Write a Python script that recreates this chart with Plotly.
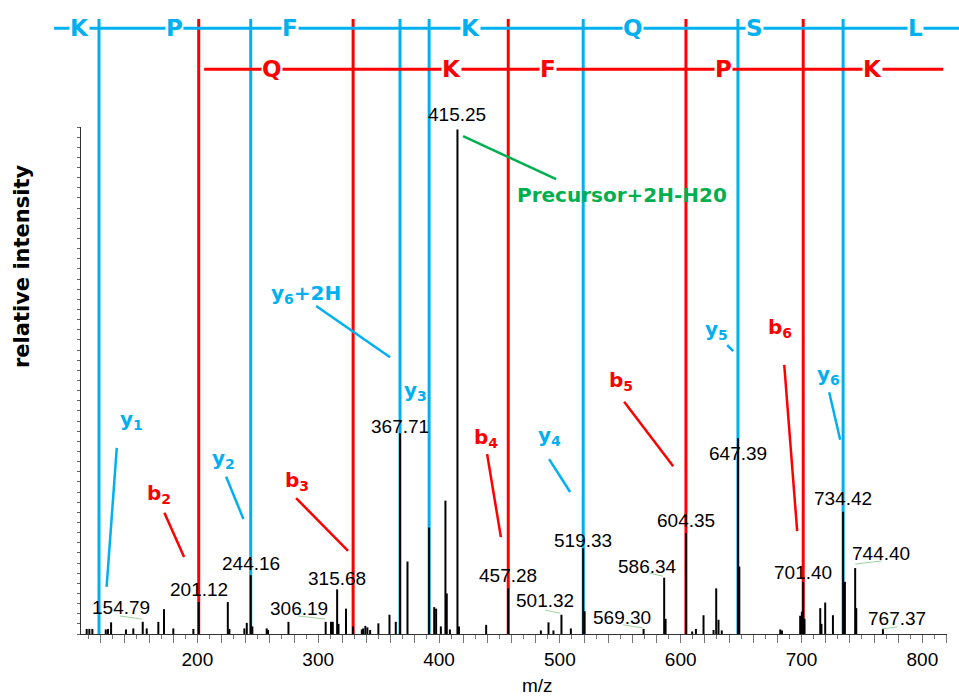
import plotly.graph_objects as go

# ---------------- data ----------------
peak_mz = [108.4, 110.6, 113.1, 124.2, 126.0, 128.6, 140.9, 147.0, 154.79, 158.1,
           167.7, 172.4, 180.1, 196.7, 201.12, 225.2, 226.5, 238.9, 240.9, 244.16,
           245.5, 257.4, 258.5, 275.4, 306.19, 310.6, 312.1, 315.68, 316.8, 323.0,
           328.9, 336.1, 337.2, 339.0, 340.7, 343.0, 349.8, 359.0, 364.2, 367.71,
           373.9, 391.8, 396.0, 397.6, 401.5, 405.3, 406.4, 409.0, 415.25, 416.5,
           439.0, 457.28, 484.3, 490.6, 494.7, 501.32, 509.1, 519.33, 520.5, 569.30,
           586.34, 587.5, 604.35, 609.5, 612.6, 618.9, 627.2, 629.4, 631.3, 634.0,
           647.39, 648.5, 682.4, 683.8, 698.9, 700.3, 701.40, 702.5, 715.5, 716.5,
           719.6, 726.0, 734.42, 735.9, 744.40, 745.3, 767.37]
peak_int = [1.0, 1.0, 1.0, 0.9, 1.0, 2.3, 0.9, 1.1, 2.4, 1.1,
            2.4, 4.9, 1.1, 1.0, 6.3, 6.3, 1.0, 1.1, 2.2, 11.6,
            1.5, 1.1, 0.8, 2.4, 2.4, 2.4, 2.4, 8.8, 2.0, 5.0,
            1.5, 0.9, 1.1, 1.6, 1.3, 0.8, 2.1, 3.8, 2.4, 39.6,
            14.3, 21.0, 5.3, 5.0, 1.5, 26.3, 8.0, 0.9, 99.5, 1.5,
            1.8, 9.0, 0.7, 2.3, 0.7, 3.8, 1.1, 16.9, 4.5, 1.0,
            11.1, 3.0, 19.9, 0.5, 1.0, 3.7, 0.8, 9.0, 2.8, 0.7,
            38.6, 13.3, 0.9, 0.7, 3.6, 4.4, 10.3, 3.0, 5.1, 2.0,
            6.2, 3.7, 24.1, 10.3, 13.0, 5.1, 1.0]

# labelled peaks: text, label x (m/z), label y (relative intensity)
label_text = ["415.25", "367.71", "647.39", "734.42", "604.35", "519.33", "244.16",
              "201.12", "315.68", "457.28", "701.40", "154.79", "306.19", "501.32",
              "569.30", "586.34", "744.40", "767.37"]
label_x = [415.25, 367.71, 647.39, 734.42, 604.35, 519.33, 244.16,
           201.12, 315.68, 457.28, 701.40, 136.6, 283.8, 487.8,
           551.6, 572.7, 766.0, 779.2]
label_y = [102.4, 41.0, 35.7, 26.8, 22.4, 18.4, 14.0,
           8.7, 10.85, 11.6, 12.2, 5.3, 5.1, 6.7,
           3.35, 13.4, 15.8, 2.96]
# thin green connectors for offset labels: (mz0, int0, mz1, int1)
conn_mz0 = [136.0, 283.4, 487.8, 552.4, 573.9, 744.5, 766.9]
conn_i0 = [3.55, 3.55, 4.7, 1.8, 12.0, 13.8, 1.0]
conn_mz1 = [153.9, 305.7, 500.3, 569.0, 585.5, 766.5, 779.4]
conn_i1 = [2.96, 2.96, 4.1, 1.2, 11.4, 14.4, 1.4]

# fragment ion lines
y_ion_mz = [118.6, 244.16, 367.71, 391.8, 519.33, 647.39, 734.42]
b_ion_mz = [201.12, 328.9, 457.28, 604.35, 701.40]

# ion labels: text, position, leader line
ion_text = ["y<sub>1</sub>", "b<sub>2</sub>", "y<sub>2</sub>", "b<sub>3</sub>",
            "y<sub>6</sub>+2H", "y<sub>3</sub>", "b<sub>4</sub>", "y<sub>4</sub>",
            "b<sub>5</sub>", "y<sub>5</sub>", "b<sub>6</sub>", "y<sub>6</sub>",
            "Precursor+2H-H20"]
ion_kind = ["y", "b", "y", "b", "y", "y", "b", "y", "b", "y", "b", "y", "p"]
ion_x = [145.1, 168.3, 221.7, 282.5, 290.0, 380.2, 439.0, 491.1, 550.7, 629.4, 682.3, 722.1, 551.6]
ion_y = [42.2, 27.6, 34.5, 30.2, 67.1, 47.9, 38.7, 39.1, 49.9, 60.0, 60.4, 51.1, 86.5]
lead_mz0 = [133.3, 172.7, 223.8, 281.7, 298.3, None, 439.8, 491.1, 553.2, 638.5, 685.7, 722.9, 419.9]
lead_i0 = [36.7, 23.9, 31.0, 26.8, 64.7, None, 35.5, 34.5, 45.8, 57.0, 53.1, 47.7, 98.2]
lead_mz1 = [124.9, 189.0, 238.1, 324.7, 359.5, None, 451.2, 508.5, 593.8, 643.5, 696.4, 732.0, 496.9]
lead_i1 = [9.3, 15.2, 22.7, 16.4, 54.6, None, 19.1, 28.0, 33.1, 55.8, 20.3, 38.3, 89.7]

# peptide sequence ladders
y_seq = ["K", "P", "F", "K", "Q", "S", "L"]
y_seq_mz = [102.1, 180.7, 276.7, 425.7, 560.7, 660.8, 794.1]
b_seq = ["Q", "K", "F", "P", "K"]
b_seq_mz = [261.8, 410.0, 490.3, 635.2, 758.5]
y_ladder_span = [81.4, 830.6]
b_ladder_span = [205.6, 817.3]

x_range = [103.7, 820.4]
y_range = [0, 100]
x_tick_labels = [200, 300, 400, 500, 600, 700, 800]

BLUE = "#00B0F0"
RED = "#FF0000"
GREEN = "#00B050"
BOLD_FONT = "DejaVu Sans"
PLAIN_FONT = "Liberation Sans, Arial"


def mz2paper(m):
    return (m - x_range[0]) / (x_range[1] - x_range[0])


fig = go.Figure()

# peaks as stick spectrum
xs, ys = [], []
for m, h in zip(peak_mz, peak_int):
    xs += [m, m, None]
    ys += [0, h, None]
fig.add_trace(go.Scatter(x=xs, y=ys, mode="lines", line=dict(color="black", width=2),
                         hoverinfo="skip", showlegend=False))

shapes = []
annotations = []
C = dict(xanchor="center", yanchor="middle", showarrow=False)

LINE_TOP = 1.213
for m in y_ion_mz:
    shapes.append(dict(type="line", xref="x", yref="paper", x0=m, x1=m, y0=0, y1=LINE_TOP,
                       line=dict(color=BLUE, width=3), layer="below"))
for m in b_ion_mz:
    shapes.append(dict(type="line", xref="x", yref="paper", x0=m, x1=m, y0=0, y1=LINE_TOP,
                       line=dict(color=RED, width=3), layer="below"))

# ladders
Y_ROW = 1.195
B_ROW = 1.114
shapes.append(dict(type="line", xref="paper", yref="paper",
                   x0=mz2paper(y_ladder_span[0]), x1=mz2paper(y_ladder_span[1]), y0=Y_ROW, y1=Y_ROW,
                   line=dict(color=BLUE, width=3), layer="below"))
shapes.append(dict(type="line", xref="paper", yref="paper",
                   x0=mz2paper(b_ladder_span[0]), x1=mz2paper(b_ladder_span[1]), y0=B_ROW, y1=B_ROW,
                   line=dict(color=RED, width=3), layer="below"))
for t, m in zip(y_seq, y_seq_mz):
    annotations.append(dict(xref="paper", yref="paper", x=mz2paper(m), y=Y_ROW, text="<b>%s</b>" % t,
                            bgcolor="white", borderpad=0,
                            font=dict(family=BOLD_FONT, size=23, color=BLUE), **C))
for t, m in zip(b_seq, b_seq_mz):
    annotations.append(dict(xref="paper", yref="paper", x=mz2paper(m), y=B_ROW, text="<b>%s</b>" % t,
                            bgcolor="white", borderpad=0,
                            font=dict(family=BOLD_FONT, size=23, color=RED), **C))

# peak labels
for t, m, h in zip(label_text, label_x, label_y):
    annotations.append(dict(xref="x", yref="paper", x=m, y=h / 100.0, text=t,
                            font=dict(family=PLAIN_FONT, size=19, color="black"), **C))
for a, b, c, d in zip(conn_mz0, conn_i0, conn_mz1, conn_i1):
    shapes.append(dict(type="line", xref="x", yref="y", x0=a, y0=b, x1=c, y1=d,
                       line=dict(color="#9fd49f", width=1)))

# ion labels
col = {"y": BLUE, "b": RED, "p": GREEN}
for t, k, x, y, a, b, c, d in zip(ion_text, ion_kind, ion_x, ion_y, lead_mz0, lead_i0, lead_mz1, lead_i1):
    annotations.append(dict(xref="x", yref="paper", x=x, y=y / 100.0, text="<b>%s</b>" % t,
                            font=dict(family=BOLD_FONT, size=20, color=col[k]), **C))
    if a is not None:
        shapes.append(dict(type="line", xref="x", yref="y", x0=a, y0=b, x1=c, y1=d,
                           line=dict(color=col[k], width=2.5)))

# axis titles
annotations.append(dict(xref="paper", yref="paper", x=0.527, y=-0.1006, text="m/z",
                        font=dict(family=PLAIN_FONT, size=19, color="black"), **C))
annotations.append(dict(xref="paper", yref="paper", x=-0.068, y=0.726, text="<b>relative intensity</b>",
                        textangle=-90,
                        font=dict(family=BOLD_FONT, size=21, color="black"), **C))

tickvals = list(range(120, 821, 20))
ticktext = [str(v) if v in x_tick_labels else "" for v in tickvals]

fig.update_layout(
    width=959, height=696, autosize=False,
    margin=dict(l=81, r=12, t=127, b=62),
    paper_bgcolor="white", plot_bgcolor="white",
    shapes=shapes, annotations=annotations, showlegend=False,
    xaxis=dict(range=x_range, showgrid=False, zeroline=False, showline=True, linecolor="#333",
               linewidth=1, ticks="outside", ticklen=8, tickcolor="#777", tickwidth=1,
               tickmode="array", tickvals=tickvals, ticktext=ticktext,
               tickfont=dict(family=PLAIN_FONT, size=19, color="black"),
               minor=dict(dtick=10, tick0=0, ticks="outside", ticklen=4, tickcolor="#777")),
    yaxis=dict(range=y_range, showgrid=False, zeroline=False, showline=True, linecolor="#333",
               linewidth=1, ticks="outside", ticklen=3, tickcolor="#666", dtick=2, tick0=0,
               showticklabels=False),
)

fig.write_html("out.html", config={"displayModeBar": False},
               post_script="document.body.style.margin='0';")
